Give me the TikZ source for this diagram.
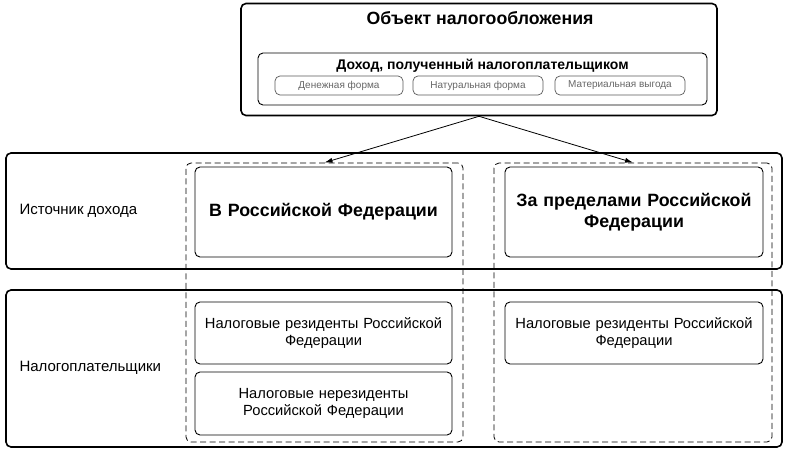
\documentclass[tikz,border=0pt]{standalone}
\usepackage{fontspec}
\setmainfont{Liberation Sans}
\usetikzlibrary{arrows.meta}
\begin{document}
\begin{tikzpicture}[x=1pt,y=-1pt,
    band/.style={draw,line width=1.6pt,rounded corners=5pt,minimum width=776pt},
    grp/.style={draw,line width=0.8pt,dash pattern=on 6pt off 3.5pt,rounded corners=5pt,minimum width=277pt,minimum height=279pt},
    cell/.style={draw,line width=0.9pt,rounded corners=5pt,align=center,text width=248pt,font=\fontsize{14.7}{17}\selectfont},
    form/.style={draw=black!65,line width=0.7pt,rounded corners=5pt,minimum height=19pt,text=black!60,font=\fontsize{10}{12}\selectfont},
    side/.style={anchor=west,font=\fontsize{15}{17}\selectfont}]
    \useasboundingbox (0,0) rectangle (788,452);

    \node (top) at (479,59.5)[draw,line width=1.6pt,rounded corners=5pt,minimum width=476pt,minimum height=112pt]{};
    \node (title) at (480,18){\fontsize{17.7}{20}\selectfont\bfseries Объект налогообложения};
    \node (income) at (482.5,79)[draw,line width=0.9pt,rounded corners=5pt,minimum width=449pt,minimum height=52pt]{};
    \node (incometitle) at (482.5,65.5){\fontsize{14}{16}\selectfont\bfseries Доход, полученный налогоплательщиком};
    \node (money) at (339,85.5)[form,minimum width=128pt]{Денежная форма};
    \node (kind) at (478,85.5)[form,minimum width=130pt]{Натуральная форма};
    \node (gain) at (620,85.5)[form,minimum width=130pt]{Материальная выгода};

    \node (source) at (394,211)[band,minimum height=116pt]{};
    \node (payers) at (394,368.5)[band,minimum height=157pt]{};
    \node (sourcelabel) at (16,211)[side]{Источник дохода};
    \node (payerslabel) at (16,368)[side]{Налогоплательщики};

    \node (ingrp) at (324.5,302.5)[grp]{};
    \node (outgrp) at (633,302.5)[grp,minimum width=278pt]{};

    \node (inrf) at (323.5,212)[cell,minimum width=257pt,minimum height=90pt,font=\fontsize{17.8}{21.5}\selectfont\bfseries]{В Российской Федерации};
    \node (outrf) at (634,212)[cell,minimum width=258pt,minimum height=90pt,font=\fontsize{17.8}{21.5}\selectfont\bfseries]{За пределами Российской\\Федерации};
    \node (res) at (323.5,333)[cell,minimum width=257pt,minimum height=62pt]{Налоговые резиденты Российской\\Федерации};
    \node (nonres) at (323.5,403.5)[cell,minimum width=257pt,minimum height=63pt]{Налоговые нерезиденты\\Российской Федерации};
    \node (resout) at (634,333)[cell,minimum width=258pt,minimum height=62pt]{Налоговые резиденты Российской\\Федерации};

    \draw[-{Latex[length=8pt,width=5pt]},line width=0.8pt] (top.south) -- (ingrp.north);
    \draw[-{Latex[length=8pt,width=5pt]},line width=0.8pt] (top.south) -- (outgrp.north);
\end{tikzpicture}
\end{document}
